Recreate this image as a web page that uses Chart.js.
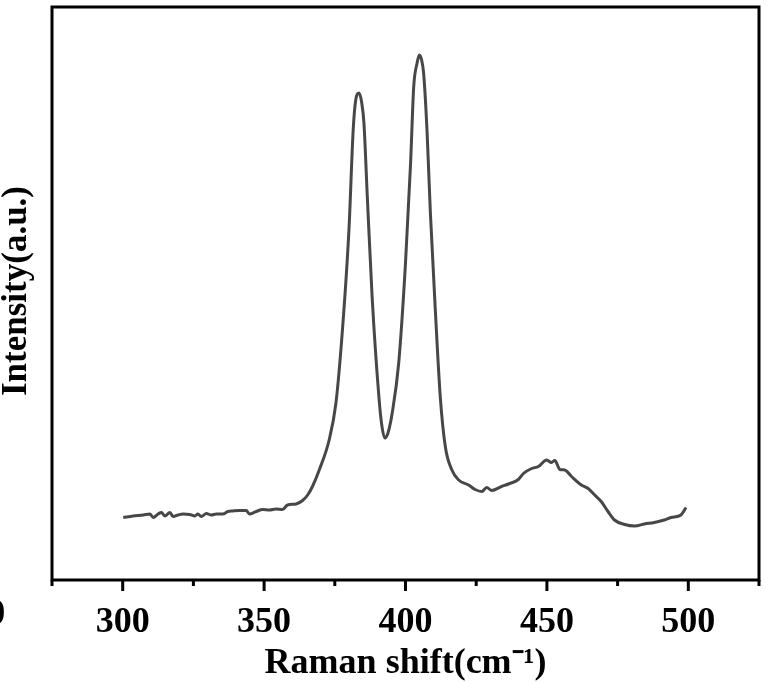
<!DOCTYPE html>
<html>
<head>
<meta charset="utf-8">
<title>Raman</title>
<script src="https://cdn.jsdelivr.net/npm/chart.js@4"></script>
<style>
    body { margin: 0; background: #ffffff; }
    canvas { display: block; }
</style>
</head>
<body>
<canvas id="grafico-raman" width="772" height="682"></canvas>
<script>
var desplazamiento = [300.2, 303.7, 307.3, 309.6, 310.8, 312.5, 313.7, 314.9, 316.7, 317.8,
    319.6, 321.3, 323.7, 325.5, 326.6, 327.8, 329.6, 331.3, 333.1, 335.4,
    337.2, 338.9, 341.3, 343.7, 344.8, 347.2, 349.5, 351.9, 354.2, 356.5,
    358.3, 361.3, 363.6, 365.4, 367.1, 369.5, 373.0, 375.4, 377.7, 380.0,
    381.5, 382.4, 383.6, 384.5, 385.3, 386.5, 388.2, 390.6, 391.6, 392.7,
    393.8, 395.3, 397.6, 400.0, 401.8, 402.9, 404.1, 404.9, 405.7, 406.4,
    407.6, 408.8, 410.6, 412.3, 414.1, 416.4, 418.8, 422.3, 424.6, 427.0,
    428.7, 430.5, 434.0, 436.4, 439.9, 441.7, 444.6, 447.0, 449.9, 451.6,
    452.8, 454.6, 456.3, 458.7, 462.2, 464.6, 466.9, 469.2, 471.6, 473.9,
    477.5, 481.0, 484.5, 488.0, 491.5, 493.9, 497.4, 499.2];

// Intensidad (unidades arbitrarias)
var intensidad = [125, 128, 130, 132, 125, 132, 135, 128, 135, 127,
    130, 132, 131, 128, 132, 127, 133, 130, 132, 132,
    137, 138, 139, 139, 132, 137, 141, 140, 142, 141,
    150, 152, 159, 170, 187, 220, 280, 354, 500, 700,
    900, 960, 974, 955, 914, 766, 566, 366, 310, 284,
    294, 334, 434, 634, 834, 986, 1034, 1050, 1040, 1014,
    900, 734, 534, 366, 266, 220, 200, 190, 181, 177,
    185, 179, 187, 192, 201, 213, 223, 227, 240, 235,
    239, 221, 220, 207, 190, 183, 170, 157, 137, 120,
    111, 108, 112, 115, 120, 125, 130, 145];

// Marcas del eje X
var ticksPrincipales = [300, 350, 400, 450, 500];
var etiquetaCortada = 250; // etiqueta que asoma recortada en el borde izquierdo
var tituloX = "Raman shift(cm\u207B\u00B9)";
var tituloY = "Intensity(a.u.)";

var fuente = "'Liberation Serif', 'Times New Roman', serif";

// Construir los puntos a partir de los arreglos
var puntos = [];
for (var i = 0; i < desplazamiento.length; i++) {
    puntos.push({ x: desplazamiento[i], y: intensidad[i] });
}

// Plugin para dibujar el marco, las marcas y el título vertical
var marcoPlugin = {
    id: "marco",
    afterDraw: function(chart) {
        var ctx = chart.ctx;
        var area = chart.chartArea;
        var escalaX = chart.scales.x;
        ctx.save();
        ctx.strokeStyle = "#000000";
        ctx.lineWidth = 3;
        ctx.strokeRect(area.left, area.top, area.right - area.left, area.bottom - area.top);

        // Marcas hacia afuera, largas en los valores principales
        escalaX.ticks.forEach(function(t) {
            var px = escalaX.getPixelForValue(t.value);
            var largo = ticksPrincipales.indexOf(t.value) >= 0 ? 11 : 6;
            ctx.beginPath();
            ctx.moveTo(px, area.bottom);
            ctx.lineTo(px, area.bottom + largo);
            ctx.stroke();
        });

        // Etiqueta 250 fuera del rango, solo se ve el último dígito
        ctx.fillStyle = "#000000";
        ctx.font = "bold 36px " + fuente;
        ctx.textAlign = "center";
        ctx.textBaseline = "middle";
        ctx.fillText(String(etiquetaCortada), escalaX.getPixelForValue(etiquetaCortada) - 3, area.bottom + 13 + 21.6);

        // Título del eje Y
        ctx.translate(26, 291);
        ctx.rotate(-Math.PI / 2);
        ctx.font = "bold 35px " + fuente;
        ctx.textAlign = "center";
        ctx.textBaseline = "alphabetic";
        ctx.fillText(tituloY, 0, 0);
        ctx.restore();
    }
};

var ctx = document.getElementById("grafico-raman").getContext("2d");

var config = {
    type: "line",
    data: {
        datasets: [
            {
                data: puntos,
                borderColor: "#474747",
                borderWidth: 3,
                pointRadius: 0,
                fill: false,
                cubicInterpolationMode: "monotone"
            }
        ]
    },
    options: {
        responsive: false,
        animation: false,
        devicePixelRatio: 1,
        layout: {
            padding: { left: 52, right: 9, top: 7, bottom: 0 }
        },
        plugins: {
            legend: { display: false },
            tooltip: { enabled: false }
        },
        scales: {
            x: {
                type: "linear",
                min: 275,
                max: 525,
                border: { display: false },
                grid: { display: false },
                afterFit: function(escala) { escala.height = 102; },
                ticks: {
                    stepSize: 25,
                    padding: 13,
                    color: "#000000",
                    font: { family: fuente, size: 36, weight: "bold" },
                    maxRotation: 0,
                    autoSkip: false,
                    callback: function(valor) {
                        return ticksPrincipales.indexOf(valor) >= 0 ? String(valor) : "";
                    }
                },
                title: {
                    display: true,
                    text: tituloX,
                    color: "#000000",
                    font: { family: fuente, size: 36, weight: "bold", lineHeight: 1 },
                    padding: { top: 0, bottom: 0 }
                }
            },
            y: {
                display: false,
                min: 0,
                max: 1146
            }
        }
    },
    plugins: [marcoPlugin]
};

new Chart(ctx, config);
</script>
</body>
</html>
